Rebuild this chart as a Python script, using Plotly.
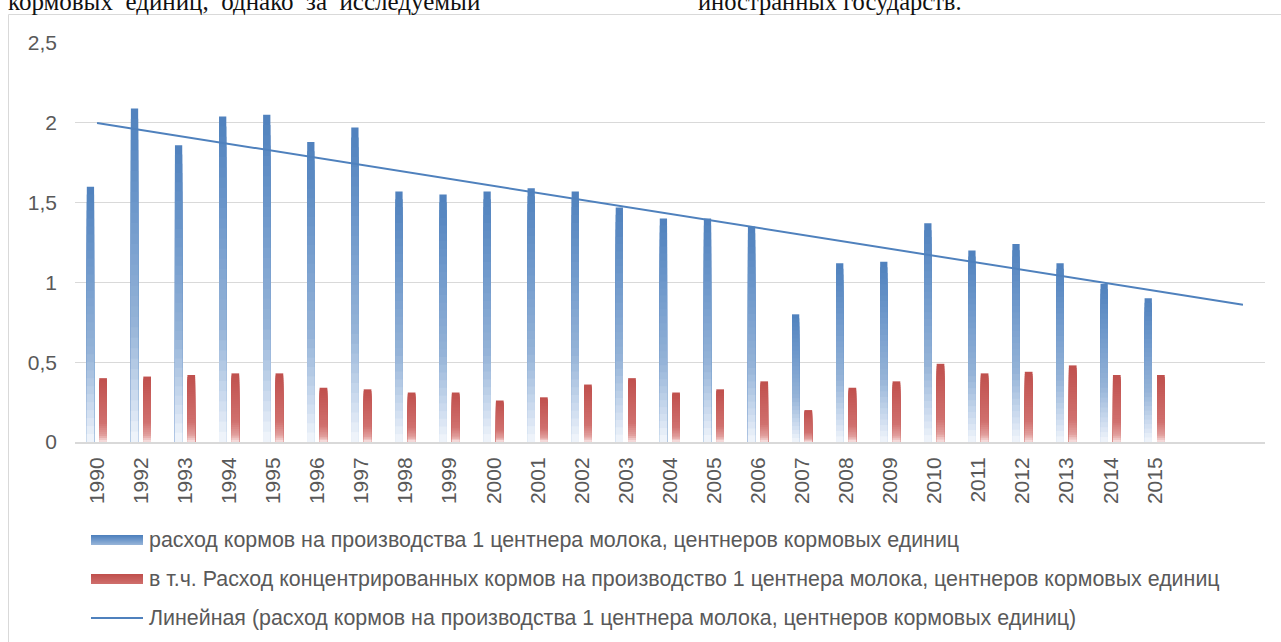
import numpy as np
import plotly.graph_objects as go

# ---------------- data ----------------
years = ["1990", "1992", "1993", "1994", "1995", "1996", "1997", "1998", "1999",
         "2000", "2001", "2002", "2003", "2004", "2005", "2006", "2007", "2008",
         "2009", "2010", "2011", "2012", "2013", "2014", "2015"]
feed_total = [1.60, 2.09, 1.86, 2.04, 2.05, 1.88, 1.97, 1.57, 1.55, 1.57, 1.59, 1.57,
              1.47, 1.40, 1.40, 1.35, 0.80, 1.12, 1.13, 1.37, 1.20, 1.24, 1.12, 0.99, 0.90]
feed_conc = [0.40, 0.41, 0.42, 0.43, 0.43, 0.34, 0.33, 0.31, 0.31, 0.26, 0.28, 0.36,
             0.40, 0.31, 0.33, 0.38, 0.20, 0.34, 0.38, 0.49, 0.43, 0.44, 0.48, 0.42, 0.42]
forecast_periods = 2
y_ticks = [0, 0.5, 1, 1.5, 2, 2.5]
y_tick_text = ["0", "0,5", "1", "1,5", "2", "2,5"]

name_total = "расход кормов на производства 1 центнера молока, центнеров кормовых единиц"
name_conc = "в т.ч. Расход концентрированных кормов на производство 1 центнера молока, центнеров кормовых единиц"
name_trend = "Линейная (расход кормов на производства 1 центнера молока, центнеров кормовых единиц)"

# ---------------- geometry helpers ----------------
W, H = 1281, 642
L, R, T, B = 75, 16, 43, 200
PW, PH = W - L - R, H - T - B


def px(x):
    return (x - L) / PW


def py(y):
    return (H - B - y) / PH


GRAY = "#595959"
BLUE = (79, 129, 189)
RED = (192, 80, 77)


def lerp(c1, c2, t):
    return tuple(int(round(a + (b - a) * t)) for a, b in zip(c1, c2))


def grad_color(stops, t):
    for (p0, c0), (p1, c1) in zip(stops[:-1], stops[1:]):
        if p0 <= t <= p1:
            return "rgb(%d,%d,%d)" % lerp(c0, c1, (t - p0) / (p1 - p0))
    return "rgb(%d,%d,%d)" % stops[-1][1]


blue_stops = [(0.0, (242, 246, 252)), (0.12, (208, 222, 240)), (0.35, (150, 180, 216)),
              (0.7, (110, 152, 203)), (1.0, BLUE)]
red_stops = [(0.0, (248, 228, 228)), (0.1, (226, 160, 158)), (0.3, (208, 112, 110)),
             (1.0, RED)]

fig = go.Figure()
x_idx = np.arange(len(years))
K = 32
vt = np.array(feed_total)
vc = np.array(feed_conc)

# gradient bars: overlapping bars from 0, tallest (darkest) first
for vals, stops, offset, width in [(vt, blue_stops, -0.232, 0.165), (vc, red_stops, 0.05, 0.175)]:
    for i in range(K):
        frac = (K - i) / K
        t = (K - i - 0.5) / K
        fig.add_trace(go.Bar(
            x=x_idx, y=vals * frac,
            offset=offset, width=width,
            marker=dict(color=grad_color(stops, t), line=dict(width=0)),
            showlegend=False, hoverinfo="skip",
        ))

# linear trend (least squares on category index), extended forward
coef = np.polyfit(x_idx, vt, 1)
x_tr = np.array([0, len(years) - 1 + forecast_periods])
fig.add_trace(go.Scatter(
    x=x_tr, y=np.polyval(coef, x_tr), mode="lines",
    line=dict(color="rgb(79,129,189)", width=2),
    showlegend=False, hoverinfo="skip",
))

shapes = []
annotations = []

# chart frame
shapes.append(dict(type="rect", xref="paper", yref="paper",
                   x0=px(8.5), x1=px(1300), y0=py(700), y1=py(14.5),
                   line=dict(color="#d9d9d9", width=1), fillcolor="rgba(0,0,0,0)",
                   layer="below"))

# custom legend
leg_x0, leg_x1 = 91, 143
rows = [540, 579, 618]
for row, stops in [(rows[0], blue_stops), (rows[1], red_stops)]:
    n = 10
    top, bot = row - 5, row + 5
    for j in range(n):
        h_top = top + (bot - top) * j / n
        t = 1 - j / n
        shapes.append(dict(type="rect", xref="paper", yref="paper",
                           x0=px(leg_x0), x1=px(leg_x1), y0=py(bot), y1=py(h_top),
                           line=dict(width=0), fillcolor=grad_color(stops, 0.3 + 0.7 * t)))
shapes.append(dict(type="line", xref="paper", yref="paper",
                   x0=px(leg_x0), x1=px(leg_x1), y0=py(rows[2]), y1=py(rows[2]),
                   line=dict(color="rgb(79,129,189)", width=2)))
for row, name in zip(rows, [name_total, name_conc, name_trend]):
    annotations.append(dict(text=name, xref="paper", yref="paper",
                            x=px(147), y=py(row), xanchor="left", yanchor="middle",
                            showarrow=False,
                            font=dict(family="Liberation Sans, Arial", size=21.4, color=GRAY)))

# clipped body text at top of page (continuation of the document text)
annotations.append(dict(text="кормовых\u00a0 единиц,\u00a0 однако\u00a0 за\u00a0 исследуемый",
                        xref="paper", yref="paper", x=px(6), y=py(1.5), xanchor="left",
                        yanchor="middle", showarrow=False,
                        font=dict(family="Liberation Serif, Times New Roman", size=25, color="#111111")))
annotations.append(dict(text="иностранных государств.",
                        xref="paper", yref="paper", x=px(696), y=py(1.5), xanchor="left",
                        yanchor="middle", showarrow=False,
                        font=dict(family="Liberation Serif, Times New Roman", size=24.5, color="#111111")))

fig.update_layout(
    width=W, height=H,
    margin=dict(l=L, r=R, t=T, b=B, autoexpand=False),
    paper_bgcolor="white", plot_bgcolor="white",
    barmode="overlay",
    showlegend=False,
    font=dict(family="Liberation Sans, Arial", color=GRAY, size=21),
    shapes=shapes, annotations=annotations,
    xaxis=dict(range=[-0.5, len(years) - 0.5 + forecast_periods],
               tickmode="array", tickvals=list(x_idx), ticktext=years,
               tickangle=-90, showgrid=False, zeroline=False,
               showline=True, linecolor="#d9d9d9", linewidth=2,
               ticks="", ticklabelstandoff=5,
               tickfont=dict(size=21, color=GRAY)),
    yaxis=dict(range=[0, 2.5], tickmode="array", tickvals=y_ticks, ticktext=y_tick_text,
               showgrid=True, gridcolor="#d9d9d9", gridwidth=1, zeroline=False,
               showline=False, ticks="", ticklabelstandoff=17,
               tickfont=dict(size=21, color=GRAY)),
)

fig.write_html("out.html", config={"displayModeBar": False},
               post_script="document.body.style.margin='0';")
